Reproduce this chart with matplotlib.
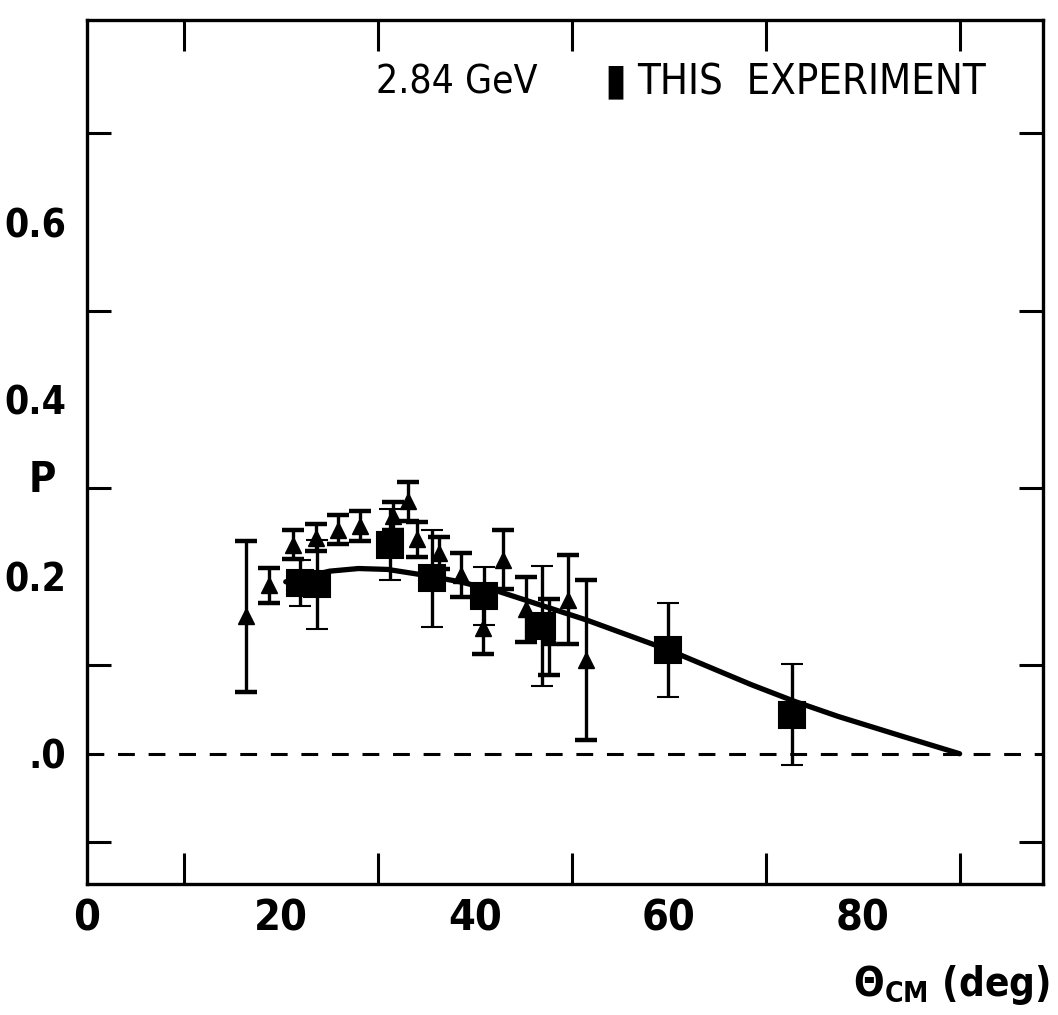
import matplotlib
matplotlib.use("Agg")
import matplotlib.pyplot as plt
from matplotlib.ticker import FixedLocator

plt.rcParams['font.family'] = ['DejaVu Sans']
plt.rcParams['font.stretch'] = 'condensed'
plt.rcParams['mathtext.default'] = 'regular'

# Earlier measurements (triangles): angle, polarization, error
tri_theta = [16.4, 18.8, 21.2, 23.6, 25.9, 28.2, 31.6, 33.1, 34.0, 36.3,
             38.6, 40.8, 42.9, 45.3, 47.6, 49.6, 51.5]
tri_p     = [0.155, 0.190, 0.236, 0.244, 0.253, 0.257, 0.268, 0.285, 0.242, 0.227,
             0.202, 0.142, 0.219, 0.163, 0.132, 0.174, 0.106]
tri_err   = [0.085, 0.020, 0.016, 0.015, 0.016, 0.017, 0.016, 0.022, 0.020, 0.018,
             0.025, 0.030, 0.033, 0.037, 0.043, 0.050, 0.090]

# This experiment (squares)
sq_theta = [22.0, 23.7, 31.2, 35.6, 40.9, 46.9, 59.9, 72.7]
sq_p     = [0.193, 0.191, 0.236, 0.198, 0.178, 0.144, 0.117, 0.044]
sq_err   = [0.026, 0.050, 0.040, 0.055, 0.033, 0.068, 0.053, 0.057]

# Theoretical curve
curve_theta = [20.5, 25.0, 28.0, 31.0, 34.5, 38.5, 42.5, 47.0, 51.5, 60.0,
               68.5, 73.0, 77.5, 84.0, 90.0]
curve_p     = [0.194, 0.206, 0.209, 0.208, 0.202, 0.194, 0.183, 0.167, 0.151, 0.117,
               0.078, 0.059, 0.042, 0.020, 0.000]

x_tick_labels = ['0', '20', '40', '60', '80']
y_tick_labels = ['.0', '0.2', '0.4', '0.6']

fig = plt.figure(figsize=(10.58, 10.15), dpi=100)
ax = fig.add_axes([87/1058, 131/1015, (1043-87)/1058, (884-20)/1015])

ax.set_xlim(0, 98.6)
ax.set_ylim(-0.147, 0.828)

ax.axhline(0.0, color='black', lw=2.2, ls=(0, (5.5, 4.5)), zorder=1)

ax.plot(curve_theta, curve_p, color='black', lw=3.8, solid_capstyle='round', zorder=2)

ax.errorbar(tri_theta, tri_p, yerr=tri_err, fmt='^', color='black', ms=11,
            elinewidth=2.4, capsize=8, capthick=3.2, zorder=3)
ax.errorbar(sq_theta, sq_p, yerr=sq_err, fmt='s', color='black', ms=19,
            mew=1.5, mec='black', elinewidth=2.4, capsize=8, capthick=3.2, zorder=4)

ax.xaxis.set_major_locator(FixedLocator([0, 20, 40, 60, 80]))
ax.set_xticklabels(x_tick_labels)
ax.yaxis.set_major_locator(FixedLocator([0.0, 0.2, 0.4, 0.6]))
ax.set_yticklabels(y_tick_labels)
ax.xaxis.set_minor_locator(FixedLocator([10, 20, 30, 40, 50, 60, 70, 80, 90]))
ax.yaxis.set_minor_locator(FixedLocator([-0.1, 0.0, 0.1, 0.2, 0.3, 0.4, 0.5, 0.6, 0.7]))

ax.tick_params(which='major', length=0, labelsize=31)
ax.tick_params(axis='x', which='major', pad=10)
ax.tick_params(axis='y', which='major', pad=15, labelsize=28)
ax.tick_params(which='minor', direction='in', top=True, right=True, width=2.2)
ax.tick_params(axis='x', which='minor', length=22)
ax.tick_params(axis='y', which='minor', length=17)
for lab in ax.get_xticklabels() + ax.get_yticklabels():
    lab.set_fontweight('bold')
for s in ax.spines.values():
    s.set_linewidth(2.4)

ax.text(0.302, 0.928, '2.84 GeV', transform=ax.transAxes,
        fontsize=28, ha='left', va='center')
ax.text(0.541, 0.930, '\u25AE', transform=ax.transAxes,
        fontsize=32, ha='left', va='center')
ax.text(0.575, 0.928, 'THIS  EXPERIMENT', transform=ax.transAxes,
        fontsize=30, ha='left', va='center')

fig.text(42/1058, 1 - 480/1015, 'P', fontsize=30, fontweight='bold',
         ha='center', va='center')
fig.text(1050/1058, 1 - 985/1015, r'$\Theta_{CM}$ (deg)', fontsize=29,
         fontweight='bold', ha='right', va='center')

fig.savefig('out.png', dpi=100)
